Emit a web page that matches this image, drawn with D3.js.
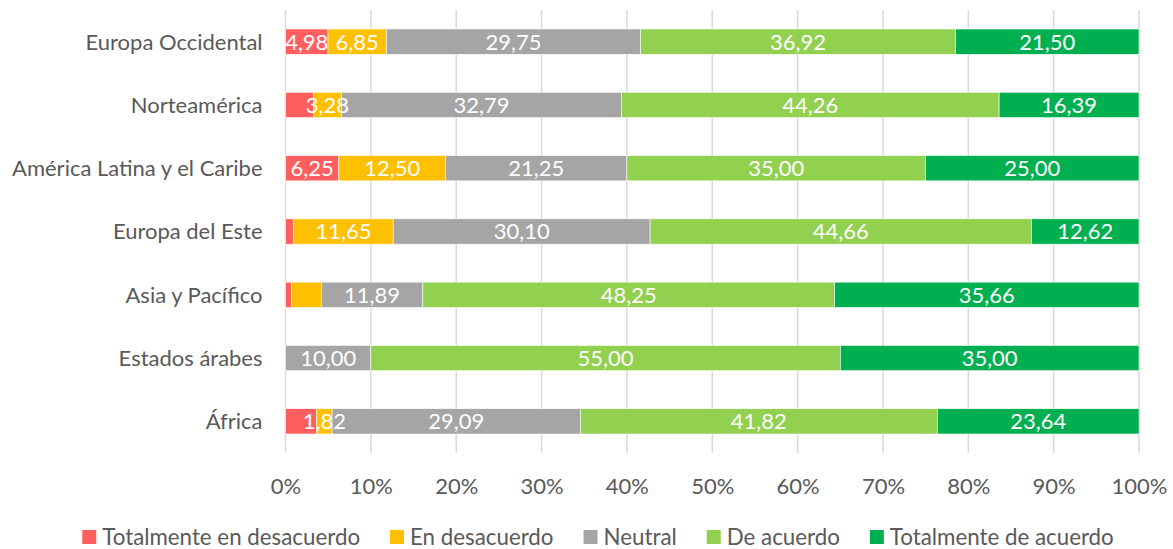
<!DOCTYPE html>
<html>
<head>
<meta charset="utf-8">
<script src="https://cdn.jsdelivr.net/npm/d3@7"></script>
<style>
  html, body { margin: 0; padding: 0; background: #fff; }
  svg { display: block; }
</style>
</head>
<body>
<svg id="chart" width="1173" height="549"></svg>
<script>
// Regions (top to bottom)
const regions = ["Europa Occidental", "Norteamérica", "América Latina y el Caribe",
  "Europa del Este", "Asia y Pacífico", "Estados árabes", "África"];

// Answer categories, in stacking order
const seriesNames = ["Totalmente en desacuerdo", "En desacuerdo", "Neutral",
  "De acuerdo", "Totalmente de acuerdo"];
const seriesColors = ["#FF5F5F", "#FFC000", "#A5A5A5", "#92D050", "#00B050"];

// Percentages per region, one array per answer category
const totDesacuerdo = [4.98, 3.28, 6.25, 0.97, 0.70, 0, 3.64];
const enDesacuerdo  = [6.85, 3.28, 12.50, 11.65, 3.50, 0, 1.82];
const neutral       = [29.75, 32.79, 21.25, 30.10, 11.89, 10.00, 29.09];
const deAcuerdo     = [36.92, 44.26, 35.00, 44.66, 48.25, 55.00, 41.82];
const totAcuerdo    = [21.50, 16.39, 25.00, 12.62, 35.66, 35.00, 23.64];

// Whether each value label is printed (per series, per region)
const showTotDesacuerdo = [true, false, true, false, false, false, false];
const showEnDesacuerdo  = [true, true, true, true, false, false, true];
const showNeutral       = [true, true, true, true, true, true, true];
const showDeAcuerdo     = [true, true, true, true, true, true, true];
const showTotAcuerdo    = [true, true, true, true, true, true, true];

// Axis tick values
const tickValues = [0, 0.1, 0.2, 0.3, 0.4, 0.5, 0.6, 0.7, 0.8, 0.9, 1.0];

const seriesValues = [totDesacuerdo, enDesacuerdo, neutral, deAcuerdo, totAcuerdo];
const seriesShow = [showTotDesacuerdo, showEnDesacuerdo, showNeutral, showDeAcuerdo, showTotAcuerdo];

const rows = regions.map((r, i) => {
  const o = { region: r };
  seriesNames.forEach((s, k) => { o[s] = seriesValues[k][i]; });
  return o;
});

const FONT = "Lato, 'Open Sans', sans-serif";
const svg = d3.select("#chart");

// Pick a font size so that a sample string spans a given width
function fitSize(str, width) {
  const probe = svg.append("text").attr("font-family", FONT).attr("font-size", 100).text(str);
  const s = 100 * width / probe.node().getComputedTextLength();
  probe.remove();
  return s;
}
const fs = fitSize("Europa Occidental", 177);
const fsLegend = fitSize("Totalmente en desacuerdo", 258);

const margin = { left: 285.5, right: 34, top: 10, bottom: 96 };
const W = 1173, H = 549;

const x = d3.scaleLinear().domain([0, 100]).range([margin.left, W - margin.right]);
const y = d3.scaleBand().domain(regions).range([margin.top, H - margin.bottom]).paddingInner(0.6).paddingOuter(0.3);

// Vertical gridlines
svg.append("g").selectAll("line").data(tickValues).join("line")
  .attr("x1", d => x(d * 100)).attr("x2", d => x(d * 100))
  .attr("y1", margin.top).attr("y2", H - margin.bottom)
  .attr("stroke", "#D9D9D9").attr("stroke-width", 1.5);

// Stacked segments
const stack = d3.stack().keys(seriesNames)(rows);
const color = d3.scaleOrdinal().domain(seriesNames).range(seriesColors);

const layers = svg.append("g").selectAll("g").data(stack).join("g")
  .attr("fill", d => color(d.key));

layers.selectAll("rect").data(d => d.filter(p => p[1] - p[0] > 0)).join("rect")
  .attr("x", p => x(p[0]))
  .attr("y", p => y(p.data.region))
  .attr("width", p => x(p[1]) - x(p[0]))
  .attr("height", y.bandwidth())
  .attr("stroke", "#fff").attr("stroke-width", 0.6);

// Value labels
const fmt = v => v.toFixed(2).replace(".", ",");
const labelG = svg.append("g").attr("font-family", FONT).attr("font-size", fs)
  .attr("fill", "#fff").attr("text-anchor", "middle");
stack.forEach((layer, k) => {
  layer.forEach((p, i) => {
    if (!seriesShow[k][i]) return;
    const v = p[1] - p[0];
    if (v <= 0) return;
    labelG.append("text")
      .attr("x", (x(p[0]) + x(p[1])) / 2)
      .attr("y", y(p.data.region) + y.bandwidth() / 2)
      .attr("dy", "0.36em")
      .text(fmt(seriesValues[k][i]));
  });
});

// Category axis labels
svg.append("g").attr("font-family", FONT).attr("font-size", fs)
  .attr("fill", "#595959").attr("text-anchor", "end")
  .selectAll("text").data(regions).join("text")
  .attr("x", margin.left - 23)
  .attr("y", d => y(d) + y.bandwidth() / 2)
  .attr("dy", "0.36em")
  .text(d => d);

// Percentage axis
const xAxis = d3.axisBottom(d3.scaleLinear().domain([0, 1]).range(x.range()))
  .tickValues(tickValues).tickFormat(d3.format(".0%")).tickSize(0).tickPadding(0);
const axG = svg.append("g").attr("transform", `translate(0, ${486})`).call(xAxis);
axG.select(".domain").remove();
axG.selectAll("text").attr("font-family", FONT).attr("font-size", fs)
  .attr("fill", "#595959").attr("dy", "0.36em").attr("y", 0);

// Legend
const legend = svg.append("g").attr("font-family", FONT).attr("font-size", fsLegend).attr("fill", "#595959");
const sq = 14, gapText = 6, gapItem = 30;
let cx = 0;
seriesNames.forEach((s, k) => {
  const g = legend.append("g");
  g.append("rect").attr("width", sq).attr("height", sq).attr("y", -sq / 2)
    .attr("fill", seriesColors[k]);
  const t = g.append("text").attr("x", sq + gapText).attr("dy", "0.36em").text(s);
  const w = sq + gapText + t.node().getComputedTextLength();
  g.attr("transform", `translate(${cx}, 0)`);
  cx += w + gapItem;
});
const total = cx - gapItem;
legend.attr("transform", `translate(${(83 + 1113) / 2 - total / 2}, 537)`);
</script>
</body>
</html>
